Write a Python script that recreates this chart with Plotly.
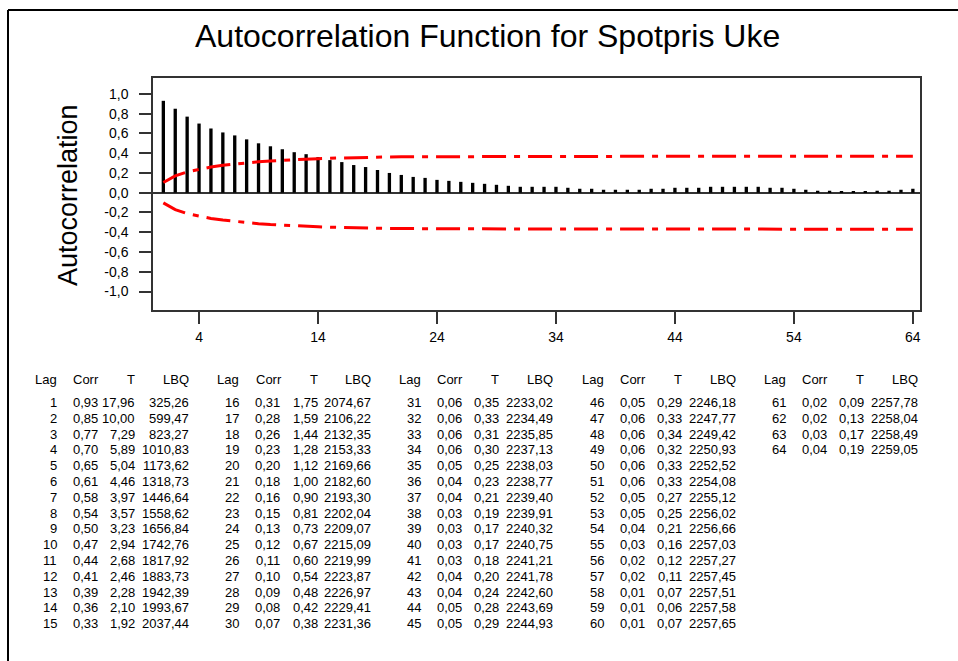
import plotly.graph_objects as go

# ---------------- data ----------------
lags = list(range(1, 65))
corr = [0.93, 0.85, 0.77, 0.70, 0.65, 0.61, 0.58, 0.54, 0.50, 0.47, 0.44, 0.41, 0.39, 0.36, 0.33,
        0.31, 0.28, 0.26, 0.23, 0.20, 0.18, 0.16, 0.15, 0.13, 0.12, 0.11, 0.10, 0.09, 0.08, 0.07,
        0.06, 0.06, 0.06, 0.06, 0.05, 0.04, 0.04, 0.03, 0.03, 0.03, 0.03, 0.04, 0.04, 0.05, 0.05,
        0.05, 0.06, 0.06, 0.06, 0.06, 0.06, 0.05, 0.05, 0.04, 0.03, 0.02, 0.02, 0.01, 0.01, 0.01,
        0.02, 0.02, 0.03, 0.04]
t_stat = [17.96, 10.00, 7.29, 5.89, 5.04, 4.46, 3.97, 3.57, 3.23, 2.94, 2.68, 2.46, 2.28, 2.10, 1.92,
          1.75, 1.59, 1.44, 1.28, 1.12, 1.00, 0.90, 0.81, 0.73, 0.67, 0.60, 0.54, 0.48, 0.42, 0.38,
          0.35, 0.33, 0.31, 0.30, 0.25, 0.23, 0.21, 0.19, 0.17, 0.17, 0.18, 0.20, 0.24, 0.28, 0.29,
          0.29, 0.33, 0.34, 0.32, 0.33, 0.33, 0.27, 0.25, 0.21, 0.16, 0.12, 0.11, 0.07, 0.06, 0.07,
          0.09, 0.13, 0.17, 0.19]
lbq = [325.26, 599.47, 823.27, 1010.83, 1173.62, 1318.73, 1446.64, 1558.62, 1656.84, 1742.76,
       1817.92, 1883.73, 1942.39, 1993.67, 2037.44,
       2074.67, 2106.22, 2132.35, 2153.33, 2169.66, 2182.60, 2193.30, 2202.04, 2209.07, 2215.09,
       2219.99, 2223.87, 2226.97, 2229.41, 2231.36,
       2233.02, 2234.49, 2235.85, 2237.13, 2238.03, 2238.77, 2239.40, 2239.91, 2240.32, 2240.75,
       2241.21, 2241.78, 2242.60, 2243.69, 2244.93,
       2246.18, 2247.77, 2249.42, 2250.93, 2252.52, 2254.08, 2255.12, 2256.02, 2256.66, 2257.03,
       2257.27, 2257.45, 2257.51, 2257.58, 2257.65,
       2257.78, 2258.04, 2258.49, 2259.05]
# significance limit
upper_limit = [0.103, 0.171, 0.211, 0.239, 0.260, 0.277, 0.291, 0.303, 0.313, 0.322, 0.329, 0.335,
               0.341, 0.345, 0.349, 0.353, 0.356, 0.358, 0.360, 0.362, 0.363, 0.364, 0.364, 0.365,
               0.366, 0.366, 0.366, 0.367, 0.367, 0.367, 0.367, 0.367, 0.367, 0.368, 0.368, 0.368,
               0.368, 0.368, 0.368, 0.368, 0.368, 0.368, 0.368, 0.368, 0.368, 0.368, 0.368, 0.368,
               0.368, 0.368, 0.369, 0.369, 0.369, 0.369, 0.369, 0.369, 0.369, 0.369, 0.369, 0.369,
               0.369, 0.369, 0.369, 0.369]
lower_limit = [-v for v in upper_limit]

x_tick_vals = [4, 14, 24, 34, 44, 54, 64]
y_tick_vals = [1.0, 0.8, 0.6, 0.4, 0.2, 0.0, -0.2, -0.4, -0.6, -0.8, -1.0]
y_tick_text = ["1,0", "0,8", "0,6", "0,4", "0,2", "0,0", "-0,2", "-0,4", "-0,6", "-0,8", "-1,0"]
table_headers = ["Lag", "Corr", "T", "LBQ"]
chart_title = "Autocorrelation Function for Spotpris Uke"
y_title = "Autocorrelation"

# ---------------- layout geometry ----------------
FIG_W, FIG_H = 958, 661
M_L, M_R, M_T, M_B = 153, 38, 78, 351
PW = FIG_W - M_L - M_R
PH = FIG_H - M_T - M_B
FONT = "Liberation Sans, Arial, sans-serif"


def px(x):
    return (x - M_L) / PW


def py(y):
    return 1 - (y - M_T) / PH


def fmt(v):
    return f"{v:.2f}".replace(".", ",")


fig = go.Figure()
fig.add_trace(go.Bar(x=lags, y=corr, width=0.28, marker=dict(color="black", line=dict(width=0)),
                     hoverinfo="skip"))
for lim in (upper_limit, lower_limit):
    fig.add_trace(go.Scatter(x=lags, y=lim, mode="lines",
                             line=dict(color="#ff0000", width=3, dash="24px,8px,6px,8px"),
                             hoverinfo="skip"))

annotations = []
annotations.append(dict(text=chart_title, x=px(487), y=py(36), xref="paper", yref="paper",
                        xanchor="center", yanchor="middle", showarrow=False,
                        font=dict(family=FONT, size=32, color="black")))
annotations.append(dict(text=y_title, x=px(68), y=py(195), xref="paper", yref="paper",
                        xanchor="center", yanchor="middle", showarrow=False, textangle=-90,
                        font=dict(family=FONT, size=27, color="black")))

group_offsets = [0, 182.5, 364, 547, 729]
col_right = [56.5, 97.5, 135.0, 188.5]
header_y = 379.5
row0_y = 402.5
row_step = 15.8
tfont = dict(family=FONT, size=13, color="black")

for g, off in enumerate(group_offsets):
    for c, h in enumerate(table_headers):
        annotations.append(dict(text=h, x=px(off + col_right[c] + (1.5 if c == 1 else 0)),
                                y=py(header_y), xref="paper", yref="paper",
                                xanchor="right", yanchor="middle", showarrow=False,
                                borderpad=0, borderwidth=0, font=tfont))
    for i in range(15):
        k = g * 15 + i
        if k >= len(lags):
            break
        vals = [str(lags[k]), fmt(corr[k]), fmt(t_stat[k]), fmt(lbq[k])]
        yy = row0_y + i * row_step
        for c, v in enumerate(vals):
            annotations.append(dict(text=v, x=px(off + col_right[c]), y=py(yy),
                                    xref="paper", yref="paper", xanchor="right",
                                    yanchor="middle", showarrow=False,
                                    borderpad=0, borderwidth=0, font=tfont))

shapes = [
    dict(type="line", xref="paper", yref="paper", x0=px(8), x1=px(8), y0=py(10), y1=py(700),
         line=dict(color="black", width=2)),
    dict(type="line", xref="paper", yref="paper", x0=px(8), x1=px(1000), y0=py(10), y1=py(10),
         line=dict(color="black", width=2)),
]

fig.update_layout(
    width=FIG_W, height=FIG_H,
    margin=dict(l=M_L, r=M_R, t=M_T, b=M_B, pad=0),
    paper_bgcolor="white", plot_bgcolor="white",
    showlegend=False,
    annotations=annotations,
    shapes=shapes,
    font=dict(family=FONT, color="black"),
)
fig.update_xaxes(range=[0.13, 64.6], tickvals=x_tick_vals, ticks="outside", ticklen=12,
                 tickwidth=1.5, tickcolor="#333333", showgrid=False, zeroline=False,
                 showline=True, linecolor="#333333", linewidth=1.5, mirror=True,
                 tickfont=dict(family=FONT, size=14, color="black"), ticklabelstandoff=1)
fig.update_yaxes(range=[-1.187, 1.161], tickvals=y_tick_vals, ticktext=y_tick_text,
                 ticks="outside", ticklen=12, tickwidth=1.5, tickcolor="#333333",
                 showgrid=False, zeroline=True, zerolinecolor="#333333", zerolinewidth=1.5,
                 showline=True, linecolor="#333333", linewidth=1.5, mirror=True,
                 tickfont=dict(family=FONT, size=14, color="black"), ticklabelstandoff=8)

fig.write_html("out.html")
